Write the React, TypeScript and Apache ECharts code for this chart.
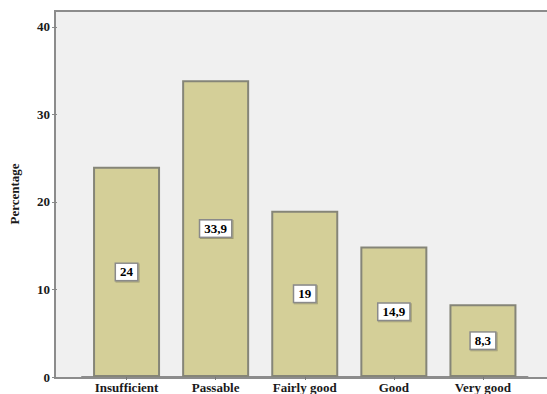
import React, { useEffect, useRef } from "react";
import * as echarts from "echarts";

const categories = ["Insufficient", "Passable", "Fairly good", "Good", "Very good"];
const percentages = [24, 33.9, 19, 14.9, 8.3];
const yTicks = [0, 10, 20, 30, 40];

const serif = "Liberation Serif";

export default function App() {
  const ref = useRef<HTMLDivElement>(null);

  useEffect(() => {
    if (!ref.current) return;
    const chart = echarts.init(ref.current, undefined, { renderer: "svg" });
    chart.setOption({
      animation: false,
      backgroundColor: "#ffffff",
      graphic: [
        {
          // plot frame: light grey panel with a grey border
          type: "rect",
          silent: true,
          z: -10,
          shape: { x: 55, y: 11, width: 510, height: 367 },
          style: { fill: "#f0f0f0", stroke: "#8c8c8c", lineWidth: 2 },
        },
      ],
      grid: { left: 80, right: 19.5, top: 11, bottom: 16, containLabel: false },
      xAxis: {
        type: "category",
        data: categories,
        axisLine: { show: true, lineStyle: { color: "#8c8c8c", width: 2 } },
        axisTick: { show: true, alignWithLabel: true, length: 3, lineStyle: { color: "#777" } },
        axisLabel: {
          margin: 4,
          fontFamily: serif,
          fontWeight: "bold",
          fontSize: 13,
          color: "#1a1a1a",
        },
      },
      yAxis: {
        type: "value",
        min: 0,
        max: 41.8,
        interval: 10,
        offset: 25,
        name: "Percentage",
        nameLocation: "middle",
        nameRotate: 90,
        nameGap: 36,
        nameTextStyle: { fontFamily: serif, fontWeight: "bold", fontSize: 13, color: "#1a1a1a" },
        axisLine: { show: false },
        axisTick: { show: true, length: 5, lineStyle: { color: "#888" } },
        splitLine: { show: false },
        axisLabel: {
          margin: 7,
          showMaxLabel: false,
          fontFamily: serif,
          fontWeight: "bold",
          fontSize: 13,
          color: "#1a1a1a",
          formatter: (v: number) => (yTicks.includes(v) ? String(v) : ""),
        },
      },
      series: [
        {
          type: "bar",
          data: percentages,
          barWidth: 67,
          itemStyle: { color: "#d4cf98", borderColor: "#858578", borderWidth: 2 },
          label: {
            show: true,
            position: "inside",
            formatter: (p: any) => String(p.value).replace(".", ","),
            fontFamily: serif,
            fontWeight: "bold",
            fontSize: 13,
            color: "#000",
            backgroundColor: "#ffffff",
            borderColor: "#8a8a8a",
            borderWidth: 1.5,
            padding: [2, 4, 1, 4],
            shadowColor: "rgba(0,0,0,0.25)",
            shadowOffsetX: 1,
            shadowOffsetY: 1,
          },
        },
      ],
    });
    return () => chart.dispose();
  }, []);

  return (
    <div
      ref={ref}
      style={{ position: "fixed", left: 0, top: 0, width: 547, height: 394 }}
    />
  );
}
